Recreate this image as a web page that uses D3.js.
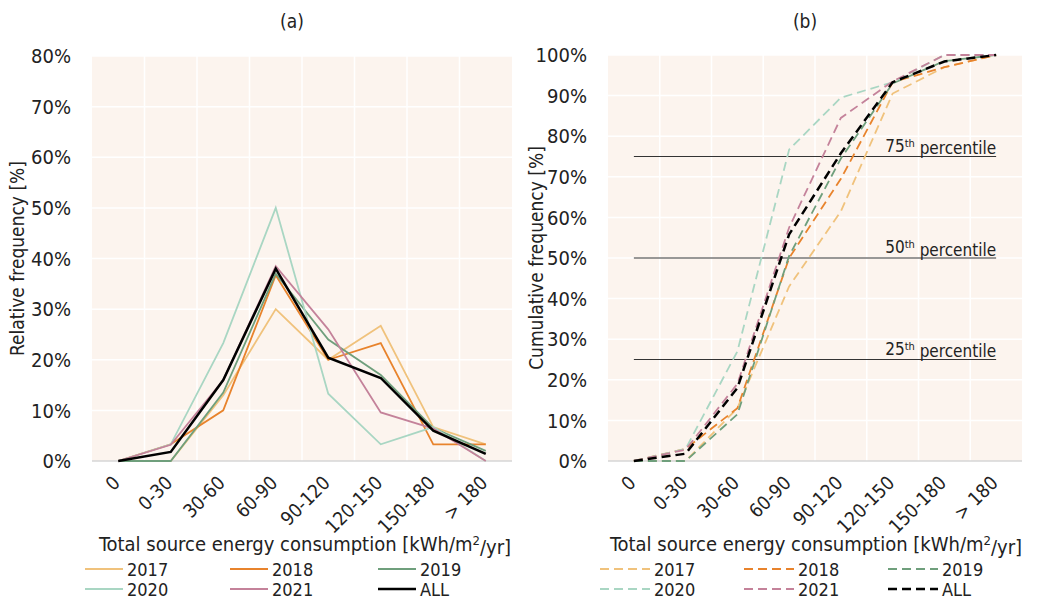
<!DOCTYPE html>
<html>
<head>
<meta charset="utf-8">
<script src="https://cdn.jsdelivr.net/npm/d3@7"></script>
<style>
  body { margin: 0; background: #fff; }
  text { font-family: 'Liberation Sans Narrow', 'Arial Narrow', 'DejaVu Sans Condensed', sans-serif; fill: #222; }
</style>
</head>
<body>
<svg width="1051" height="601"></svg>
<script>
// categories (energy bins)
let categories = ["0", "0-30", "30-60", "60-90", "90-120", "120-150", "150-180", "> 180"];
let years = ["2017", "2018", "2019", "2020", "2021", "ALL"];
let colors = ["#f0c27c", "#e8832c", "#6f9f7c", "#a9d6c3", "#c4829a", "#000000"];

// relative frequency [%] (a)
let rel2017 = [0, 0, 13, 30, 20, 26.7, 6.7, 3.3];
let rel2018 = [0, 3.3, 10, 36.7, 20, 23.3, 3.3, 3.3];
let rel2019 = [0, 0, 13.5, 37, 24, 17, 6.5, 2];
let rel2020 = [0, 3.3, 23.3, 50, 13.3, 3.3, 6.7, 0];
let rel2021 = [0, 3.2, 16, 38.5, 26, 9.6, 6.4, 0];
let relAll = [0, 1.8, 16, 38, 20.4, 16.4, 6, 1.4];

// cumulative frequency [%] (b)
let cum2017 = [0, 0, 13, 43, 61.5, 90.5, 97, 100];
let cum2018 = [0, 3, 13, 50, 69.5, 93.3, 97, 100];
let cum2019 = [0, 0, 11.5, 50.5, 74.5, 93, 98.5, 100];
let cum2020 = [0, 3, 27, 76.7, 89.5, 93.3, 100, 100];
let cum2021 = [0, 2.8, 19, 57.5, 84.5, 93.5, 100, 100];
let cumAll = [0, 1.8, 18, 55.8, 75.8, 93.3, 98.4, 100];

let percentiles = [25, 50, 75];

let relSeries = [rel2017, rel2018, rel2019, rel2020, rel2021, relAll];
let cumSeries = [cum2017, cum2018, cum2019, cum2020, cum2021, cumAll];

let svg = d3.select('svg');

function panel(opts) {
    let g = svg.append('g');
    let x = d3.scaleBand().domain(categories).range([opts.left, opts.right]).padding(0);
    let y = d3.scaleLinear().domain([0, opts.ymax]).range([461, opts.top]);
    let cx = (c) => x(c) + x.bandwidth() / 2;

    // background
    g.append('rect')
        .attr('x', opts.left).attr('y', opts.top)
        .attr('width', opts.right - opts.left).attr('height', 461 - opts.top)
        .attr('fill', '#fcf4ee');

    // grid
    let yticks = d3.range(0, opts.ymax + 1, 10);
    g.selectAll('.hg').data(yticks.slice(1)).enter().append('line')
        .attr('x1', opts.left).attr('x2', opts.right)
        .attr('y1', d => y(d)).attr('y2', d => y(d))
        .attr('stroke', '#fff').attr('stroke-width', 1.5);
    g.selectAll('.vg').data(categories.slice(1)).enter().append('line')
        .attr('x1', d => x(d)).attr('x2', d => x(d))
        .attr('y1', opts.top).attr('y2', 461)
        .attr('stroke', '#fff').attr('stroke-width', 1.5);

    // baseline
    g.append('line')
        .attr('x1', opts.left).attr('x2', opts.right)
        .attr('y1', 461).attr('y2', 461)
        .attr('stroke', '#d6d6d6').attr('stroke-width', 1.5);

    // y tick labels
    g.selectAll('.yl').data(yticks).enter().append('text')
        .attr('x', opts.left - 21).attr('y', d => y(d))
        .attr('dy', '0.36em')
        .attr('text-anchor', 'end')
        .style('font-size', '20px')
        .text(d => d + '%');

    // x tick labels
    g.selectAll('.xl').data(categories).enter().append('text')
        .attr('transform', d => 'translate(' + (cx(d) + 3) + ',484) rotate(-45)')
        .attr('text-anchor', 'end')
        .style('font-size', '19px')
        .text(d => d);

    // percentile reference lines
    if (opts.percentiles) {
        g.selectAll('.pl').data(percentiles).enter().append('line')
            .attr('x1', cx(categories[0])).attr('x2', cx(categories[categories.length - 1]))
            .attr('y1', d => y(d)).attr('y2', d => y(d))
            .attr('stroke', '#333').attr('stroke-width', 1.2);
        let pt = g.selectAll('.pt').data(percentiles).enter().append('text')
            .attr('x', cx(categories[categories.length - 1]))
            .attr('y', d => y(d) - 5)
            .attr('text-anchor', 'end')
            .style('font-size', '17px');
        pt.append('tspan').text(d => d);
        pt.append('tspan').attr('dy', '-0.45em').style('font-size', '11px').text('th');
        pt.append('tspan').attr('dy', '0.45em').text(' percentile');
    }

    // series
    let line = d3.line().x((d, i) => cx(categories[i])).y(d => y(d));
    opts.series.forEach((s, k) => {
        g.append('path')
            .attr('d', line(s))
            .attr('fill', 'none')
            .attr('stroke', colors[k])
            .attr('stroke-width', k === 5 ? 2.5 : 1.8)
            .attr('stroke-dasharray', opts.dash ? '9,5' : null);
    });

    // titles
    g.append('text')
        .attr('x', (opts.left + opts.right) / 2 - 10).attr('y', 28)
        .attr('text-anchor', 'middle')
        .style('font-size', '19px')
        .text(opts.title);
    g.append('text')
        .attr('transform', 'translate(' + opts.ytitleX + ',' + (opts.top + 461) / 2 + ') rotate(-90)')
        .attr('text-anchor', 'middle')
        .style('font-size', '19px')
        .text(opts.ytitle);
    let xt = g.append('text')
        .attr('x', opts.xtitleX).attr('y', opts.xtitleY)
        .attr('text-anchor', 'middle')
        .style('font-size', '20px');
    xt.append('tspan').text('Total source energy consumption [kWh/m');
    xt.append('tspan').attr('dy', '-0.45em').style('font-size', '13px').text('2');
    xt.append('tspan').attr('dy', '0.45em').text('/yr]');

    // legend
    let lg = g.append('g');
    years.forEach((yr, k) => {
        let col = k % 3, row = Math.floor(k / 3);
        let lx = opts.legX[col], ly = 569 + row * 20;
        lg.append('line')
            .attr('x1', lx).attr('x2', lx + opts.legLen)
            .attr('y1', ly).attr('y2', ly)
            .attr('stroke', colors[k])
            .attr('stroke-width', k === 5 ? 2.5 : 1.8)
            .attr('stroke-dasharray', opts.dash ? '9,5' : null);
        lg.append('text')
            .attr('x', lx + opts.legLen + 4).attr('y', ly + 7)
            .style('font-size', '18px')
            .text(yr);
    });
}

panel({
    left: 92, right: 512, top: 56, ymax: 80,
    series: relSeries, dash: false, percentiles: false,
    title: '(a)', ytitle: 'Relative frequency [%]', ytitleX: 24,
    xtitleX: 305, xtitleY: 551,
    legX: [85, 230, 378], legLen: 38
});

panel({
    left: 608, right: 1022, top: 55, ymax: 100,
    series: cumSeries, dash: true, percentiles: true,
    title: '(b)', ytitle: 'Cumulative frequency [%]', ytitleX: 543,
    xtitleX: 816, xtitleY: 551,
    legX: [600, 744, 888], legLen: 50
});
</script>
</body>
</html>
